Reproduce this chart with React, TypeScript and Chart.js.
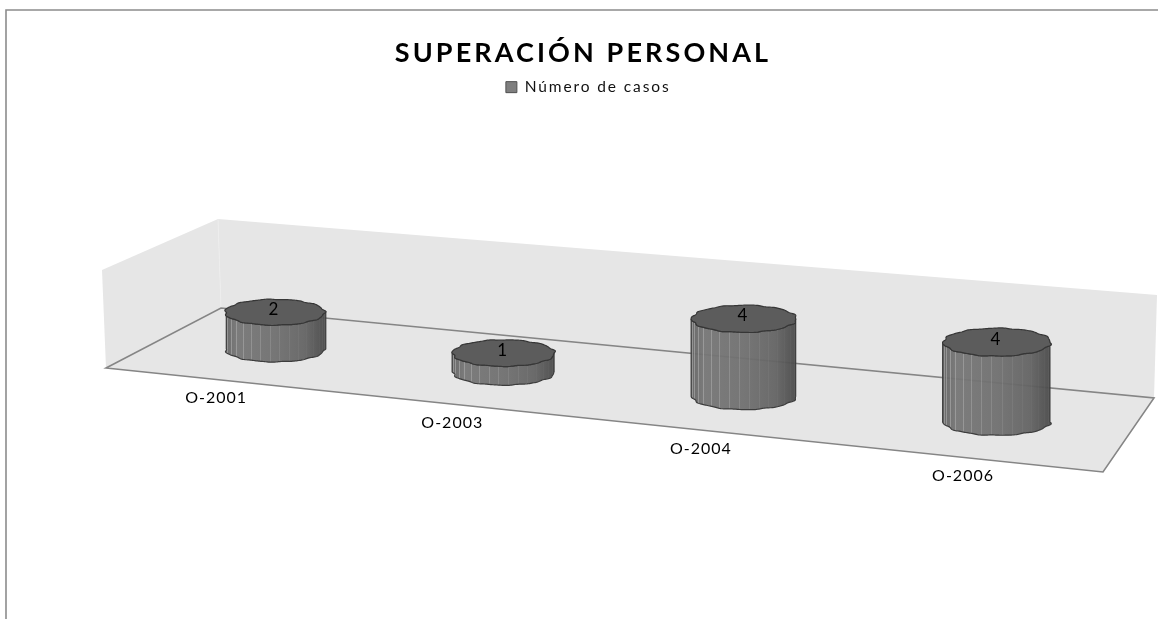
import React, { useEffect, useRef } from "react";
import { Chart, registerables } from "chart.js";

Chart.register(...registerables);

const categories = ["O-2001", "O-2003", "O-2004", "O-2006"];
const casos = [2, 1, 4, 4];
const seriesName = "Número de casos";
const chartTitle = "SUPERACIÓN PERSONAL";

const FONT = "Lato, 'Open Sans', sans-serif";
type P = [number, number];
// scene corners (room drawn behind the cylinders)
const FLOOR: P[] = [[106, 368], [1103, 472], [1154, 398], [221, 308]];
const BACK_WALL: P[] = [[218, 219], [1157, 295], [1154, 398], [221, 308]];
const LEFT_WALL: P[] = [[102, 270], [218, 219], [221, 308], [106, 368]];

function makeHomography(q: P[]) {
  const [p0, p1, p2, p3] = q;
  const dx1 = [p1[0] - p2[0], p1[1] - p2[1]];
  const dx2 = [p3[0] - p2[0], p3[1] - p2[1]];
  const s = [p0[0] - p1[0] + p2[0] - p3[0], p0[1] - p1[1] + p2[1] - p3[1]];
  const det = dx1[0] * dx2[1] - dx2[0] * dx1[1];
  const g = (s[0] * dx2[1] - dx2[0] * s[1]) / det;
  const h = (dx1[0] * s[1] - s[0] * dx1[1]) / det;
  return (u: number, v: number) => {
    const w = 1 + g * u + h * v;
    const x = ((p1[0] - p0[0] + g * p1[0]) * u + (p3[0] - p0[0] + h * p3[0]) * v + p0[0]) / w;
    const y = ((p1[1] - p0[1] + g * p1[1]) * u + (p3[1] - p0[1] + h * p3[1]) * v + p0[1]) / w;
    return { x, y, w };
  };
}
const project = makeHomography(FLOOR);

function poly(ctx: CanvasRenderingContext2D, pts: P[]) {
  ctx.beginPath();
  pts.forEach((p, i) => (i ? ctx.lineTo(p[0], p[1]) : ctx.moveTo(p[0], p[1])));
  ctx.closePath();
}

function drawCylinder(
  ctx: CanvasRenderingContext2D,
  cx: number,
  baseY: number,
  height: number,
  rx: number,
  ry: number,
  phase: number
) {
  const topY = baseY - height;
  const pt = (t: number, cy: number): P => {
    const r = 1 + 0.02 * Math.cos(11 * t + phase) + 0.008 * Math.cos(19 * t + phase * 2);
    return [cx + rx * r * Math.cos(t), cy + ry * r * Math.sin(t) * 1.02];
  };
  const N = 120;
  // side wall: front half of the base and of the top rim
  ctx.save();
  const side = new Path2D();
  for (let i = 0; i <= N; i++) {
    const p = pt(Math.PI - (Math.PI * i) / N, baseY);
    i ? side.lineTo(p[0], p[1]) : side.moveTo(p[0], p[1]);
  }
  for (let i = 0; i <= N; i++) {
    const p = pt((Math.PI * i) / N, topY);
    side.lineTo(p[0], p[1]);
  }
  side.closePath();
  const grad = ctx.createLinearGradient(cx - rx, 0, cx + rx, 0);
  grad.addColorStop(0, "rgba(100,100,100,0.95)");
  grad.addColorStop(0.12, "rgba(118,118,118,0.95)");
  grad.addColorStop(0.5, "rgba(112,112,112,0.95)");
  grad.addColorStop(0.8, "rgba(100,100,100,0.95)");
  grad.addColorStop(1, "rgba(74,74,74,0.95)");
  ctx.fillStyle = grad;
  ctx.fill(side);
  ctx.save();
  ctx.clip(side);
  for (let a = 6; a < 180; a += 11.25) {
    const x = cx + rx * Math.cos((a * Math.PI) / 180);
    const alpha = 0.24 + 0.2 * Math.sin(a * 1.7);
    ctx.strokeStyle = `rgba(200,200,200,${alpha})`;
    ctx.lineWidth = 1;
    ctx.beginPath();
    ctx.moveTo(Math.round(x) + 0.5, topY);
    ctx.lineTo(Math.round(x) + 0.5, baseY + ry + 2);
    ctx.stroke();
  }
  ctx.restore();
  ctx.strokeStyle = "#3c3c3c";
  ctx.lineWidth = 1.2;
  ctx.stroke(side);
  // top lid
  ctx.beginPath();
  for (let i = 0; i <= 2 * N; i++) {
    const p = pt((Math.PI * i) / N, topY);
    i ? ctx.lineTo(p[0], p[1]) : ctx.moveTo(p[0], p[1]);
  }
  ctx.closePath();
  ctx.fillStyle = "#5c5c5c";
  ctx.fill();
  ctx.strokeStyle = "#363636";
  ctx.stroke();
  ctx.restore();
}

const spacingPlugin = {
  id: "spacing",
  beforeDraw(chart: any) {
    if (chart.$spaced) return;
    chart.$spaced = true;
    const ctx = chart.ctx;
    const wrap = (box: any, sp: string, dx: number, dy: number) => {
      const orig = box.draw.bind(box);
      box.draw = (...a: any[]) => {
        ctx.save();
        ctx.letterSpacing = sp;
        ctx.translate(dx, dy);
        orig(...a);
        ctx.restore();
      };
    };
    wrap(chart.titleBlock, "3.1px", 4, 0);
    wrap(chart.legend, "1.9px", -5, -2);
  },
};

const scenePlugin = {
  id: "scene",
  beforeDatasetsDraw(chart: any) {
    const ctx: CanvasRenderingContext2D = chart.ctx;
    ctx.save();
    // outer frame
    ctx.strokeStyle = "#8c8c8c";
    ctx.lineWidth = 1.6;
    ctx.beginPath();
    ctx.moveTo(6, 619);
    ctx.lineTo(6, 10);
    ctx.lineTo(1158, 10);
    ctx.stroke();
    // room
    ctx.fillStyle = "#e6e6e6";
    poly(ctx, LEFT_WALL);
    ctx.fill();
    poly(ctx, BACK_WALL);
    ctx.fill();
    poly(ctx, FLOOR);
    ctx.fill();
    ctx.strokeStyle = "#ededed";
    ctx.lineWidth = 1;
    ctx.beginPath();
    ctx.moveTo(BACK_WALL[0][0], BACK_WALL[0][1]);
    ctx.lineTo(BACK_WALL[3][0], BACK_WALL[3][1]);
    ctx.stroke();
    ctx.strokeStyle = "#858585";
    ctx.lineWidth = 1.6;
    poly(ctx, FLOOR);
    ctx.stroke();
    ctx.restore();
  },
  beforeDatasetDraw(chart: any, args: any) {
    const ctx: CanvasRenderingContext2D = chart.ctx;
    const area = chart.chartArea;
    const meta = chart.getDatasetMeta(args.index);
    const values = chart.data.datasets[args.index].data;
    const labels = chart.data.labels;
    ctx.save();
    meta.data.forEach((bar: any, i: number) => {
      const u = (bar.x - area.left) / area.width;
      const c = project(u, 0.5);
      const front = project(u, 0);
      const height = (bar.base - bar.y) / c.w;
      const rx = bar.width / 2 / c.w;
      const ry = rx * 0.255;
      drawCylinder(ctx, c.x - 1, c.y + 1, height, rx, ry, i * 1.3 + 0.4);
      ctx.fillStyle = "#000";
      ctx.font = `17px ${FONT}`;
      ctx.textAlign = "center";
      ctx.textBaseline = "middle";
      (ctx as any).letterSpacing = "0px";
      ctx.fillText(String(values[i]), c.x - 2.5, c.y + 1 - height - 3);
      (ctx as any).letterSpacing = "1px";
      ctx.font = `16px ${FONT}`;
      ctx.fillText(String(labels[i]), front.x - 3.5, front.y + 18);
      (ctx as any).letterSpacing = "0px";
    });
    ctx.restore();
    return false;
  },
};

export default function App() {
  const ref = useRef<HTMLCanvasElement>(null);
  useEffect(() => {
    document.body.style.margin = "0";
    const chart = new Chart(ref.current as HTMLCanvasElement, {
      type: "bar",
      data: {
        labels: categories,
        datasets: [
          {
            label: seriesName,
            data: casos,
            backgroundColor: "#7f7f7f",
            borderColor: "#505050",
            borderWidth: 1,
            barPercentage: 0.352,
            categoryPercentage: 1,
          },
        ],
      },
      options: {
        responsive: false,
        animation: false,
        layout: { padding: { top: 37, bottom: 418, left: 0, right: 0 } },
        plugins: {
          tooltip: { enabled: false },
          title: {
            display: true,
            text: chartTitle,
            color: "#000",
            font: { family: FONT, size: 27, weight: "bold" },
            padding: { top: 0, bottom: 6 },
          },
          legend: {
            display: true,
            position: "top",
            labels: {
              color: "#111",
              boxWidth: 11,
              boxHeight: 11,
              padding: 6,
              font: { family: FONT, size: 15.5 },
            },
          },
        },
        scales: {
          x: { display: false },
          y: { display: false, min: 0, max: 5 },
        },
      },
      plugins: [spacingPlugin, scenePlugin],
    } as any);
    return () => chart.destroy();
  }, []);
  return (
    <div style={{ position: "fixed", left: 0, top: 0, width: 1158, height: 619, overflow: "hidden", background: "#fff" }}>
      <canvas ref={ref} width={1158} height={619} style={{ display: "block" }} />
    </div>
  );
}
